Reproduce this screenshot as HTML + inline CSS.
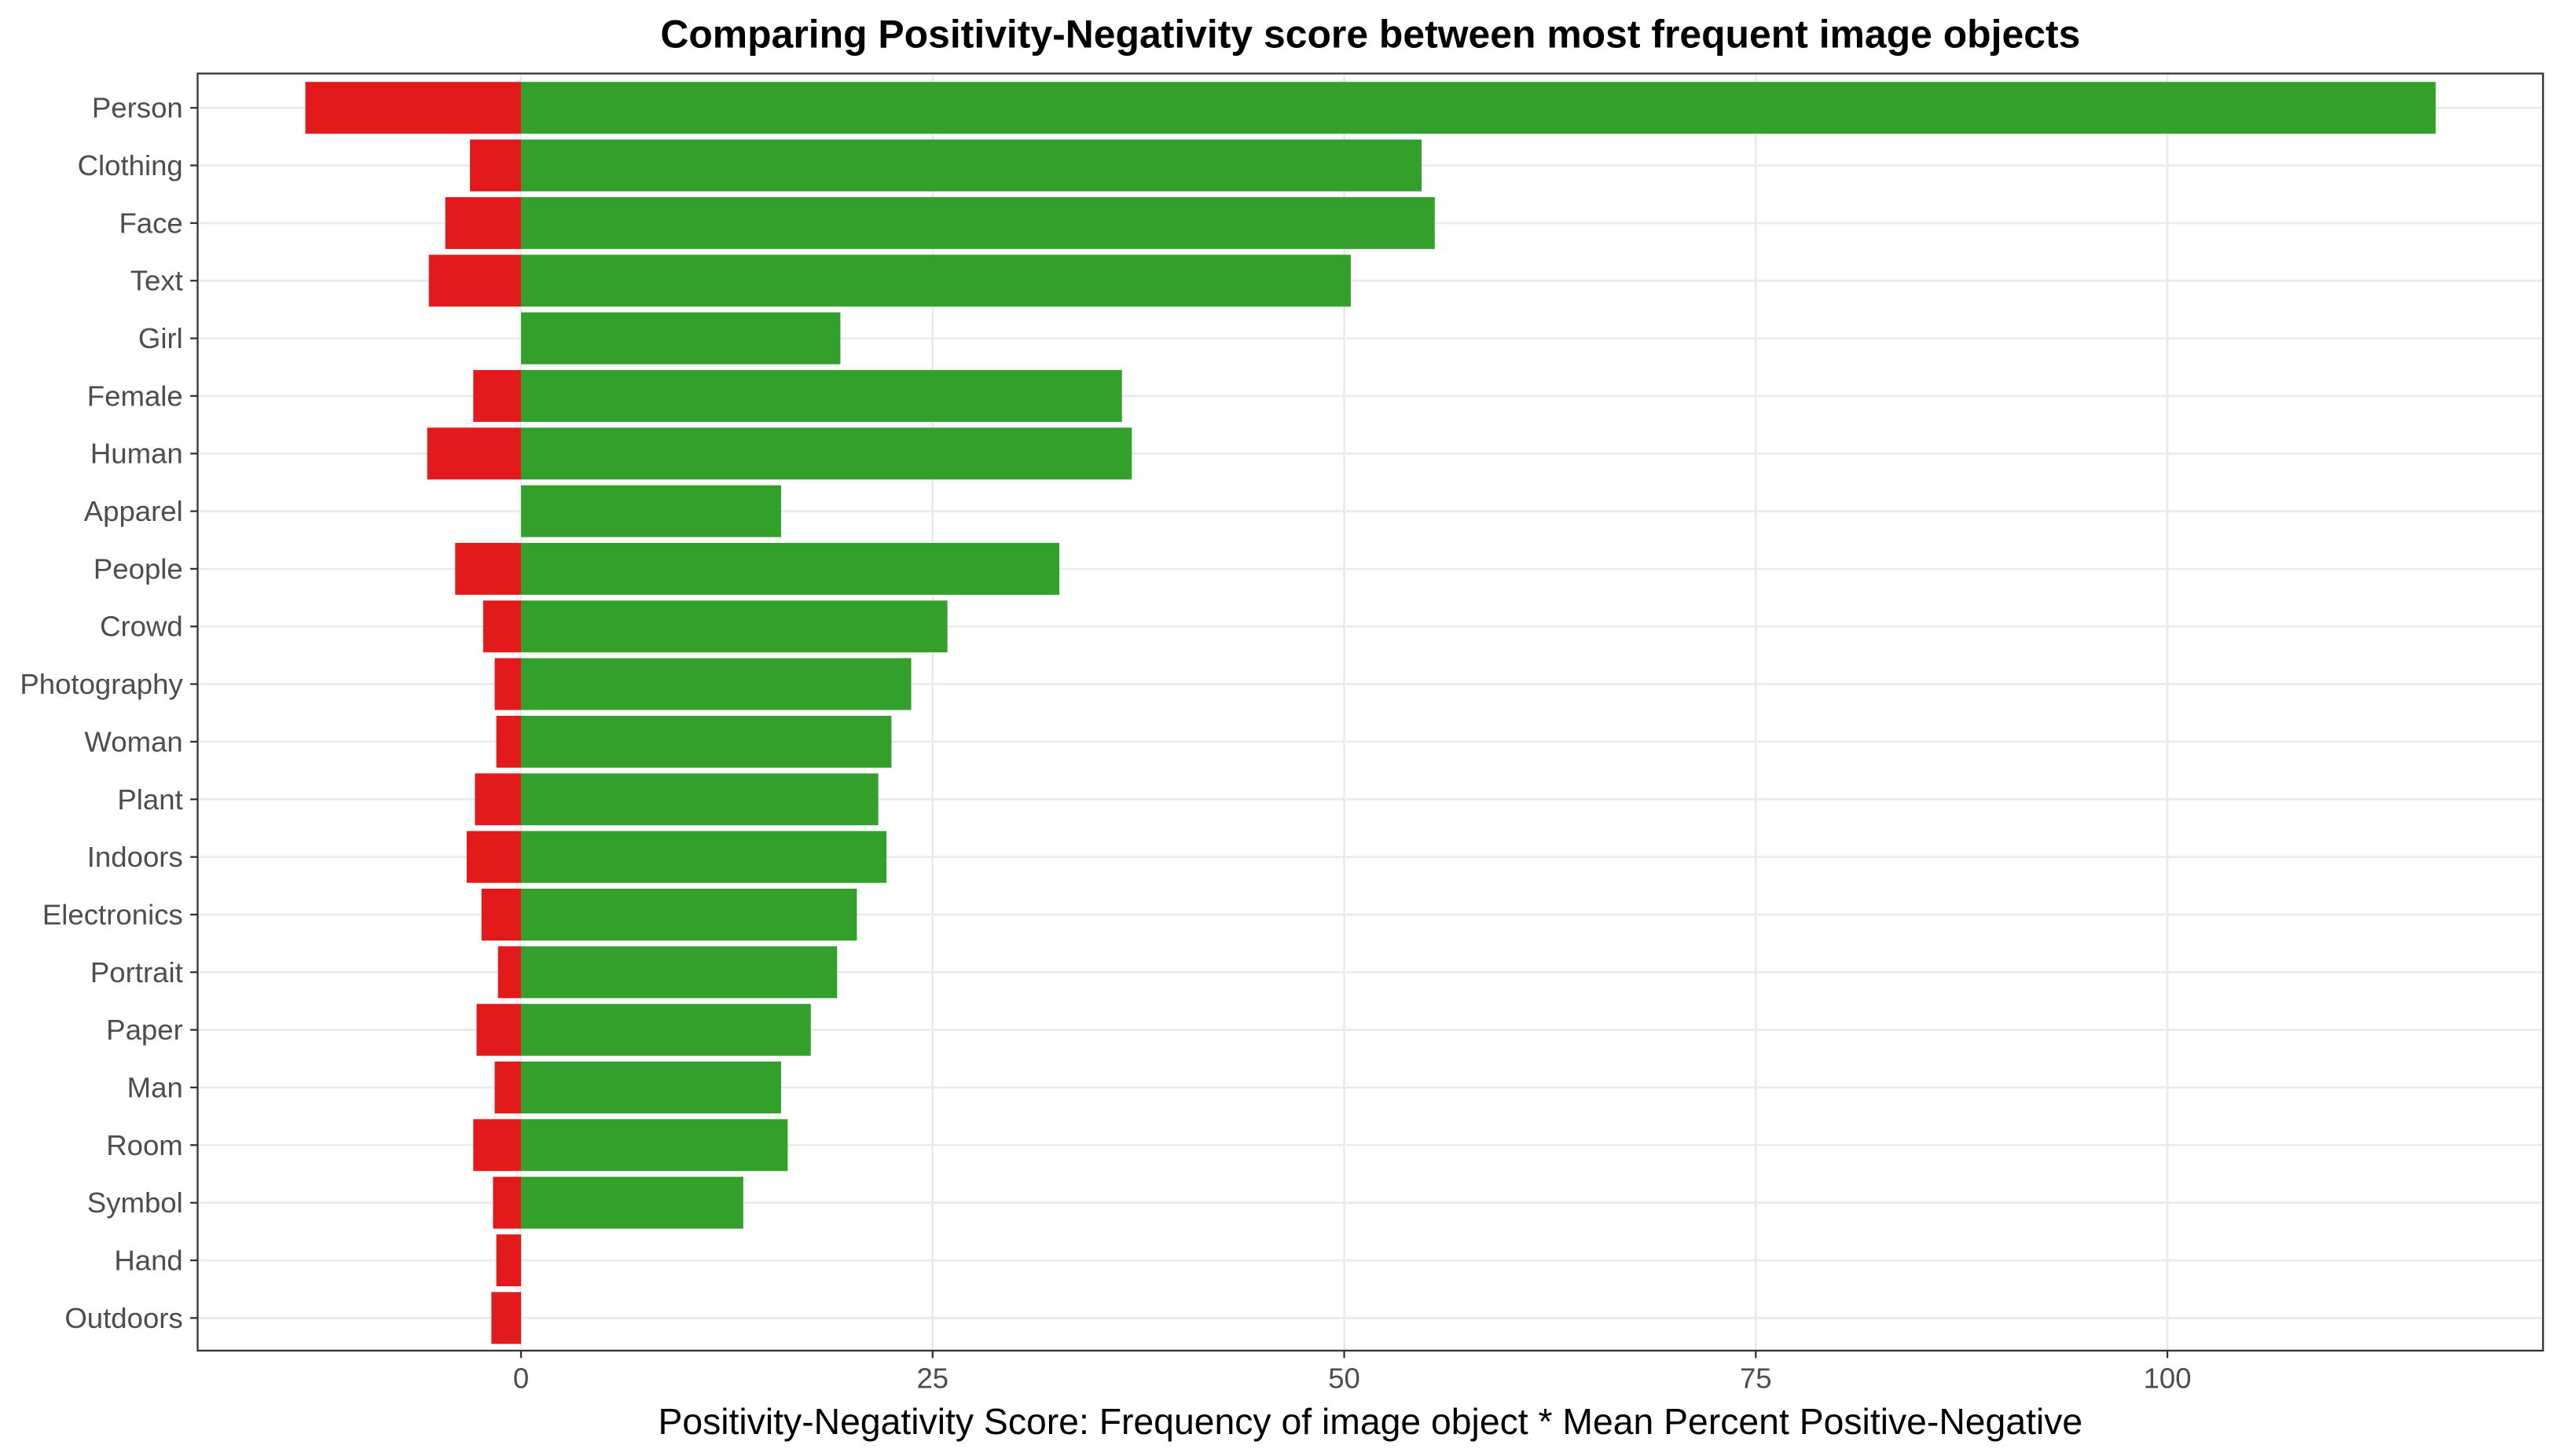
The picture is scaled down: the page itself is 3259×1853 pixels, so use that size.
<!DOCTYPE html>
<html><head><meta charset="utf-8"><style>html,body{margin:0;padding:0;background:#fff}svg{display:block}</style></head>
<body>
<svg id="chart" width="3259" height="1853" viewBox="0 0 1568 891.5" xmlns="http://www.w3.org/2000/svg" font-family="Liberation Sans, Arial, sans-serif">
<rect width="1568" height="891.5" fill="#fff"/>
<text x="839" y="29" text-anchor="middle" font-size="24" font-weight="bold" fill="#000">Comparing Positivity-Negativity score between most frequent image objects</text>
<g id="grid"></g><g id="bars"></g><g id="axes"></g>
<text x="839" y="878" text-anchor="middle" font-size="22.3" fill="#000">Positivity-Negativity Score: Frequency of image object * Mean Percent Positive-Negative</text>
</svg>
<script>
const categories = ["Person","Clothing","Face","Text","Girl","Female","Human","Apparel","People","Crowd","Photography","Woman","Plant","Indoors","Electronics","Portrait","Paper","Man","Room","Symbol","Hand","Outdoors"];
const positiveValues = [116.3,54.7,55.5,50.4,19.4,36.5,37.1,15.8,32.7,25.9,23.7,22.5,21.7,22.2,20.4,19.2,17.6,15.8,16.2,13.5,0,0];
const negativeValues = [-13.1,-3.1,-4.6,-5.6,0,-2.9,-5.7,0,-4.0,-2.3,-1.6,-1.5,-2.8,-3.3,-2.4,-1.4,-2.7,-1.6,-2.9,-1.7,-1.5,-1.8];
const xTicks = [0,25,50,75,100];

const NS="http://www.w3.org/2000/svg";
const L=121,R=1557,T=45,B=827;
const x0=319, pxPerUnit=252/25;
function xScale(v){return x0+v*pxPerUnit;}
const rowStep=(807-66)/21;
function yScale(i){return 66+i*rowStep;}
const bandH=rowStep*0.9;
function mk(tag,attrs,parent){const e=document.createElementNS(NS,tag);for(const k in attrs)e.setAttribute(k,attrs[k]);parent.appendChild(e);return e;}
const grid=document.getElementById('grid'),bars=document.getElementById('bars'),axes=document.getElementById('axes');
xTicks.forEach(t=>{
  const g=mk('line',{x1:xScale(t),x2:xScale(t),y1:T,y2:B,stroke:'#ebebeb','stroke-width':1.3},grid);
  
  
});
categories.forEach((c,i)=>{
  const g=mk('line',{x1:L,x2:R,y1:yScale(i),y2:yScale(i),stroke:'#ebebeb','stroke-width':1.3},grid);
  
  
});
categories.forEach((c,i)=>{
  const y=yScale(i)-bandH/2;
  if(negativeValues[i]!==0){
    const r=mk('rect',{x:xScale(negativeValues[i]),y:y,width:xScale(0)-xScale(negativeValues[i]),height:bandH,fill:'#e31a1c'},bars);
    
    
  }
  if(positiveValues[i]!==0){
    const r=mk('rect',{x:xScale(0),y:y,width:xScale(positiveValues[i])-xScale(0),height:bandH,fill:'#33a02c'},bars);
    
    
  }
  const tk=mk('line',{x1:L-4.5,x2:L,y1:yScale(i),y2:yScale(i),stroke:'#333','stroke-width':1.1},axes);
  
  
  const tl=mk('text',{x:L-9,y:yScale(i)+6,'text-anchor':'end','font-size':17.6,fill:'#4d4d4d'},axes);
  tl.textContent=c;
  
  
});
xTicks.forEach(t=>{
  const tk=mk('line',{x1:xScale(t),x2:xScale(t),y1:B,y2:B+4.5,stroke:'#333','stroke-width':1.1},axes);
  
  
  const tl=mk('text',{x:xScale(t),y:B+23,'text-anchor':'middle','font-size':17.6,fill:'#4d4d4d'},axes);
  tl.textContent=t;
  
  
});
const border=mk('rect',{x:L,y:T,width:R-L,height:B-T,fill:'none',stroke:'#333','stroke-width':1.1},axes);


</script>
</body></html>
